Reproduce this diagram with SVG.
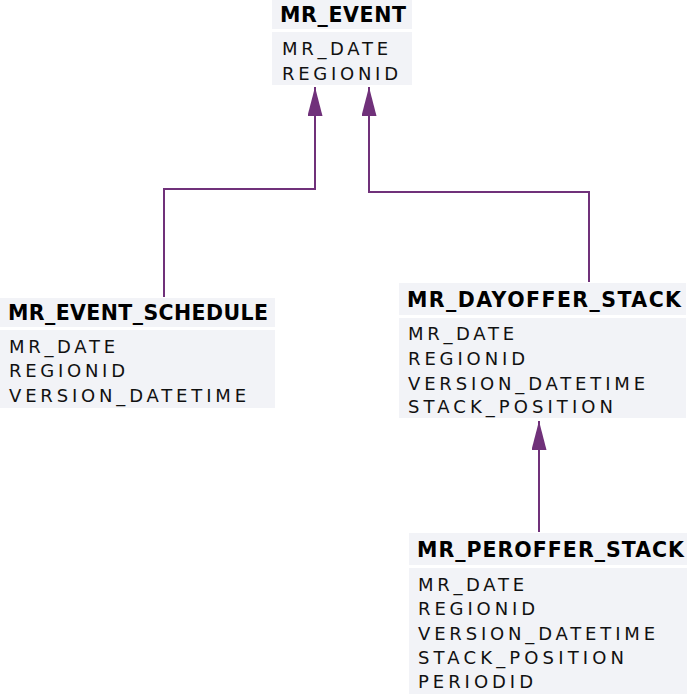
<svg xmlns="http://www.w3.org/2000/svg" width="687" height="694" viewBox="0 0 687 694">
<style>
.bg{fill:#f2f3f7}
.h{font-family:"DejaVu Sans",Verdana,sans-serif;font-weight:bold;font-size:20.5px;fill:#000}
.t{font-family:"DejaVu Sans",Verdana,sans-serif;font-size:18px;fill:#111}
.c{fill:none;stroke:#70317a;stroke-width:2}
</style>
<defs>
<marker id="ah" markerUnits="userSpaceOnUse" markerWidth="30" markerHeight="16" refX="29" refY="7.5" orient="auto">
<path d="M0,0 L29,7.5 L0,15 Z" fill="#70317a"/>
</marker>
</defs>
<rect width="687" height="694" fill="#fff"/>
<g id="connectors">
<path class="c" d="M164,297 V189 H315 V87" marker-end="url(#ah)"/>
<path class="c" d="M589,282 V192 H369 V87" marker-end="url(#ah)"/>
<path class="c" d="M539,532 V421" marker-end="url(#ah)"/>
</g>
<g id="MR_EVENT">
<rect class="bg" x="272" y="0" width="140" height="29"/>
<rect class="bg" x="272" y="32" width="140" height="53"/>
<text class="h" x="280" y="22" textLength="126" lengthAdjust="spacing">MR_EVENT</text>
<text class="t" x="282" y="55" textLength="106" lengthAdjust="spacing">MR_DATE</text>
<text class="t" x="282" y="80" textLength="116" lengthAdjust="spacing">REGIONID</text>
</g>
<g id="MR_EVENT_SCHEDULE">
<rect class="bg" x="0" y="298" width="275" height="29"/>
<rect class="bg" x="0" y="330" width="275" height="78"/>
<text class="h" x="8" y="320" textLength="260" lengthAdjust="spacing">MR_EVENT_SCHEDULE</text>
<text class="t" x="9" y="353" textLength="106" lengthAdjust="spacing">MR_DATE</text>
<text class="t" x="9" y="377" textLength="116" lengthAdjust="spacing">REGIONID</text>
<text class="t" x="9" y="402" textLength="237" lengthAdjust="spacing">VERSION_DATETIME</text>
</g>
<g id="MR_DAYOFFER_STACK">
<rect class="bg" x="399" y="283" width="287" height="32"/>
<rect class="bg" x="399" y="318" width="287" height="100"/>
<text class="h" x="407" y="307" textLength="274" lengthAdjust="spacing">MR_DAYOFFER_STACK</text>
<text class="t" x="408" y="340" textLength="106" lengthAdjust="spacing">MR_DATE</text>
<text class="t" x="408" y="365" textLength="117" lengthAdjust="spacing">REGIONID</text>
<text class="t" x="408" y="390" textLength="237" lengthAdjust="spacing">VERSION_DATETIME</text>
<text class="t" x="408" y="413" textLength="205" lengthAdjust="spacing">STACK_POSITION</text>
</g>
<g id="MR_PEROFFER_STACK">
<rect class="bg" x="409" y="533" width="278" height="32"/>
<rect class="bg" x="409" y="568" width="278" height="126"/>
<text class="h" x="417" y="557" textLength="267" lengthAdjust="spacing">MR_PEROFFER_STACK</text>
<text class="t" x="418" y="591" textLength="106" lengthAdjust="spacing">MR_DATE</text>
<text class="t" x="418" y="615" textLength="117" lengthAdjust="spacing">REGIONID</text>
<text class="t" x="418" y="640" textLength="237" lengthAdjust="spacing">VERSION_DATETIME</text>
<text class="t" x="418" y="664" textLength="206" lengthAdjust="spacing">STACK_POSITION</text>
<text class="t" x="418" y="688" textLength="115" lengthAdjust="spacing">PERIODID</text>
</g>
</svg>
